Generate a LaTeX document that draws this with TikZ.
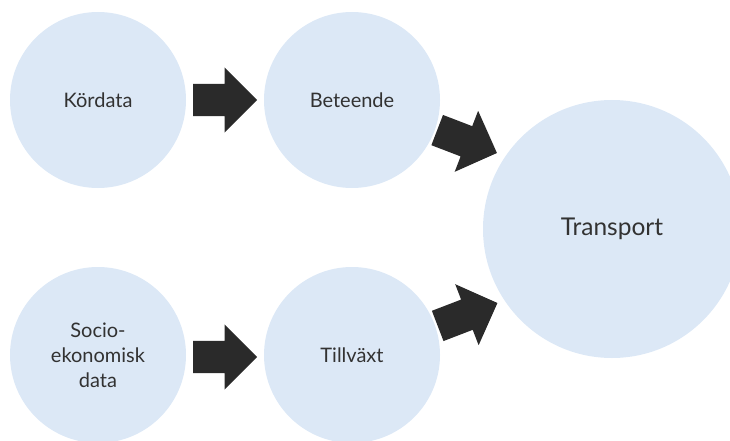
\documentclass[tikz,border=0pt]{standalone}
\usepackage{fontspec}
\setmainfont{Lato}
\usetikzlibrary{shapes.arrows}
\definecolor{circfill}{RGB}{220,232,246}
\definecolor{arrfill}{RGB}{42,42,42}
\definecolor{txt}{RGB}{50,50,50}
\begin{document}
\begin{tikzpicture}[x=1pt,y=-1pt,
  bubble/.style={circle,fill=circfill,draw=none,inner sep=0pt,text=txt,align=center,
    font=\fontsize{20}{25}\selectfont},
  blockarrow/.style={single arrow,fill=arrfill,draw=none,inner xsep=0pt,inner ysep=16pt,
    minimum height=64pt,single arrow head extend=16.5pt,single arrow tip angle=90,anchor=tail}]
\useasboundingbox (0,0) rectangle (730,441);
\node[bubble,minimum size=176pt] (kor) at (98,100) {Kördata};
\node[bubble,minimum size=176pt] (bet) at (352,100) {Beteende};
\node[bubble,minimum size=176pt] (soc) at (98,355) {Socio-\\ekonomisk\\data};
\node[bubble,minimum size=176pt] (til) at (352,355) {Tillväxt};
\node[bubble,minimum size=258pt,font=\fontsize{24.5}{28}\selectfont] (tra) at (612,229) {Transport};
\node[blockarrow] (a1) at (193,100) {};
\node[blockarrow] (a2) at (193,357) {};
\node[blockarrow,rotate=-21] (a3) at (437,130) {};
\node[blockarrow,rotate=21] (a4) at (437.5,326) {};
\end{tikzpicture}
\end{document}
